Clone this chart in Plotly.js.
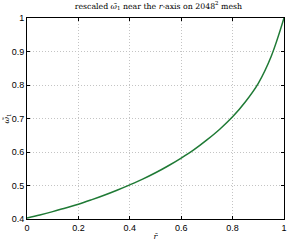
<!DOCTYPE html>
<html><head><meta charset="utf-8">
<script src="https://cdn.plot.ly/plotly-3.0.1.min.js"></script>
<style>html,body{margin:0;padding:0;background:#fff}#c{width:288px;height:241px}</style>
</head><body><div id="c"></div>
<script>
const rValues = [0, 0.05, 0.1, 0.15, 0.2, 0.25, 0.3, 0.35, 0.4, 0.45, 0.5, 0.55, 0.6, 0.65, 0.7, 0.75, 0.8, 0.85, 0.9, 0.95, 1.0];
const omegaValues = [0.403, 0.412, 0.422, 0.433, 0.444, 0.457, 0.471, 0.486, 0.502, 0.519, 0.538, 0.559, 0.582, 0.607, 0.636, 0.668, 0.705, 0.750, 0.805, 0.885, 1.0];
const xTicks = [0, 0.2, 0.4, 0.6, 0.8, 1];
const xTickLabels = ['0', '0.2', '0.4', '0.6', '0.8', '1'];
const yTicks = [0.4, 0.5, 0.6, 0.7, 0.8, 0.9, 1];
const yTickLabels = ['0.4', '0.5', '0.6', '0.7', '0.8', '0.9', '1'];

const tickFont = {family: 'Liberation Sans, Arial, sans-serif', size: 9, color: '#000'};
const axisCommon = {
  showline: true, mirror: 'ticks', linecolor: '#000', linewidth: 1,
  ticks: 'inside', ticklen: 3, tickcolor: '#000',
  showgrid: true, gridcolor: '#c4c4c4', griddash: '1px,2px', gridwidth: 1,
  zeroline: false, tickfont: tickFont
};
Plotly.newPlot('c', [{
  x: rValues, y: omegaValues, type: 'scatter', mode: 'lines',
  line: {color: '#1f7a35', width: 1.5, shape: 'spline'}
}], {
  width: 288, height: 241,
  margin: {l: 27, r: 4, t: 18, b: 22},
  paper_bgcolor: '#fff', plot_bgcolor: '#fff',
  showlegend: false,
  title: {text: 'rescaled <i>ω̃</i><sub>1</sub> near the <i>r</i>-axis on 2048<sup>2</sup> mesh',
    font: {family: 'DejaVu Serif, Liberation Serif, serif', size: 7.8, color: '#000'},
    x: 0.55, xanchor: 'center', y: 0.975, yanchor: 'middle'},
  xaxis: Object.assign({}, axisCommon, {range: [0, 1], tickvals: xTicks, ticktext: xTickLabels,
    title: {text: '<i>r̄</i>', font: {family: 'DejaVu Serif, serif', size: 8, color: '#000'}, standoff: 2}}),
  yaxis: Object.assign({}, axisCommon, {range: [0.4, 1], tickvals: yTicks, ticktext: yTickLabels,
    title: {text: '<i>ω̃</i><sub>1</sub>', font: {family: 'DejaVu Serif, serif', size: 8, color: '#000'}, standoff: 0}})
}, {displayModeBar: false, staticPlot: true});
</script></body></html>
